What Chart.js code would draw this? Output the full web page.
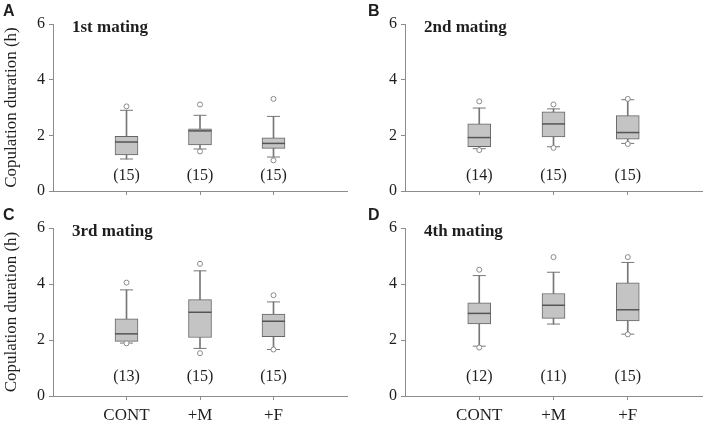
<!DOCTYPE html>
<html>
<head>
<meta charset="utf-8">
<script src="https://cdn.jsdelivr.net/npm/chart.js@4.4.1/dist/chart.umd.min.js"></script>
<style>
  body { margin: 0; background: #fff; }
  #wrap { position: relative; width: 715px; height: 425px; }
  canvas { position: absolute; }
</style>
</head>
<body>
<div id="wrap">
  <canvas id="pA" width="360" height="205" style="left:0;top:0"></canvas>
  <canvas id="pB" width="363" height="205" style="left:352px;top:0"></canvas>
  <canvas id="pC" width="360" height="221" style="left:0;top:204px"></canvas>
  <canvas id="pD" width="363" height="221" style="left:352px;top:204px"></canvas>
</div>
<script>
// groups and panels
const groups = ['CONT', '+M', '+F'];
const panelLetters = ['A', 'B', 'C', 'D'];
const panelTitles = ['1st mating', '2nd mating', '3rd mating', '4th mating'];
const yTicks = [0, 2, 4, 6];

// box plot stats, one row per panel, one value per group (h)
const whiskLow = [[1.15, 1.51, 1.22], [1.52, 1.59, 1.71], [1.89, 1.70, 1.66], [1.78, 2.57, 2.21]];
const q1       = [[1.30, 1.66, 1.53], [1.59, 1.94, 1.86], [1.95, 2.09, 2.12], [2.57, 2.77, 2.68]];
const median   = [[1.76, 2.16, 1.71], [1.92, 2.41, 2.10], [2.22, 2.99, 2.67], [2.95, 3.24, 3.08]];
const q3       = [[1.96, 2.23, 1.91], [2.41, 2.84, 2.71], [2.76, 3.44, 2.93], [3.33, 3.66, 4.04]];
const whiskHigh= [[2.90, 2.72, 2.68], [2.98, 2.95, 3.28], [3.79, 4.47, 3.36], [4.30, 4.42, 4.77]];
const outHigh  = [[3.04, 3.11, 3.31], [3.22, 3.11, 3.31], [4.05, 4.72, 3.60], [4.51, 4.96, 4.96]];
const outLow   = [[null, 1.42, 1.10], [1.47, 1.55, 1.69], [1.88, 1.53, 1.66], [1.73, null, 2.20]];
const nCounts  = [[15, 15, 15], [14, 15, 15], [13, 15, 15], [12, 11, 15]];
const nLabelY  = [0.55, 0.55, 0.68, 0.68];

const axisColor = '#8c8c8c';
const textColor = '#1e1e1e';
const serif = 'Liberation Serif';

const pad = arr => [null, ...arr, null];

const textPlugin = {
  id: 'texts',
  afterDraw(chart) {
    const p = chart.options.plugins.texts;
    const ctx = chart.ctx;
    const xs = chart.scales.x, ys = chart.scales.y;
    const area = chart.chartArea;
    ctx.save();
    ctx.fillStyle = textColor;
    // panel letter
    ctx.font = 'bold 16px "Liberation Sans"';
    ctx.textAlign = 'left';
    ctx.textBaseline = 'alphabetic';
    ctx.fillText(panelLetters[p.i], p.letterX, 16);
    // panel title
    ctx.font = 'bold 17px "' + serif + '"';
    ctx.textBaseline = 'middle';
    ctx.fillText(panelTitles[p.i], area.left + 19, 28);
    // n labels
    ctx.font = '16px "' + serif + '"';
    ctx.textAlign = 'center';
    nCounts[p.i].forEach((n, k) => {
      ctx.fillText('(' + n + ')', xs.getPixelForValue(k + 1), ys.getPixelForValue(nLabelY[p.i]));
    });
    // y title on left panels
    if (p.i % 2 === 0) {
      ctx.font = '17px "' + serif + '"';
      ctx.translate(12, (area.top + area.bottom) / 2);
      ctx.rotate(-Math.PI / 2);
      ctx.fillText('Copulation duration (h)', 0, 0);
    }
    ctx.restore();
  }
};

function makePanel(id, i) {
  const bottomRow = i >= 2;
  const labels = ['', ...groups, ''];
  new Chart(document.getElementById(id), {
    type: 'bar',
    data: {
      labels: labels,
      datasets: [
        { type: 'line', data: pad(median[i]), showLine: false, pointStyle: 'line',
          pointRadius: 11.5, pointBorderColor: '#555', pointBorderWidth: 1.5, order: 0 },
        { type: 'line', data: pad(outHigh[i]), showLine: false, pointStyle: 'circle',
          pointRadius: 2.5, pointBorderColor: '#8a8a8a', pointBackgroundColor: '#fff', pointBorderWidth: 1, order: 0 },
        { type: 'line', data: pad(outLow[i]), showLine: false, pointStyle: 'circle',
          pointRadius: 2.5, pointBorderColor: '#8a8a8a', pointBackgroundColor: '#fff', pointBorderWidth: 1, order: 0 },
        { type: 'line', data: pad(whiskHigh[i]), showLine: false, pointStyle: 'line',
          pointRadius: 6.5, pointBorderColor: '#777', pointBorderWidth: 1, order: 1 },
        { type: 'line', data: pad(whiskLow[i]), showLine: false, pointStyle: 'line',
          pointRadius: 6.5, pointBorderColor: '#777', pointBorderWidth: 1, order: 1 },
        { data: pad(q1[i].map((v, k) => [v, q3[i][k]])), backgroundColor: '#c4c4c4',
          borderColor: '#666', borderWidth: 1, borderSkipped: false, barThickness: 23, grouped: false, order: 2 },
        { data: pad(q3[i].map((v, k) => [v, whiskHigh[i][k]])), backgroundColor: '#777',
          borderWidth: 0, barThickness: 1, grouped: false, order: 3 },
        { data: pad(whiskLow[i].map((v, k) => [v, q1[i][k]])), backgroundColor: '#777',
          borderWidth: 0, barThickness: 1, grouped: false, order: 3 }
      ]
    },
    options: {
      responsive: false,
      animation: false,
      events: [],
      layout: { padding: { left: 0, top: 24, right: 2, bottom: 0 } },
      plugins: {
        legend: { display: false },
        tooltip: { enabled: false },
        texts: { i: i, letterX: i % 2 === 0 ? 3 : 16 }
      },
      scales: {
        x: {
          offset: false,
          grid: { offset: false, drawOnChartArea: false, tickLength: 4,
            tickColor: c => (c.index === 0 || c.index === 4) ? 'rgba(0,0,0,0)' : axisColor },
          border: { color: axisColor, width: 1 },
          ticks: { display: bottomRow, color: textColor, padding: 5, maxRotation: 0,
            font: { family: serif, size: 17 } },
          afterFit: s => { s.height = bottomRow ? 29 : 14; }
        },
        y: {
          min: 0, max: 6,
          afterBuildTicks: s => { s.ticks = yTicks.map(v => ({ value: v })); },
          grid: { drawOnChartArea: false, tickLength: 4, color: axisColor },
          border: { color: axisColor, width: 1 },
          ticks: { color: textColor, padding: 4, font: { family: serif, size: 16 } },
          afterFit: s => { s.width = 53; }
        }
      }
    },
    plugins: [textPlugin]
  });
}

['pA', 'pB', 'pC', 'pD'].forEach((id, i) => makePanel(id, i));
</script>
</body>
</html>
